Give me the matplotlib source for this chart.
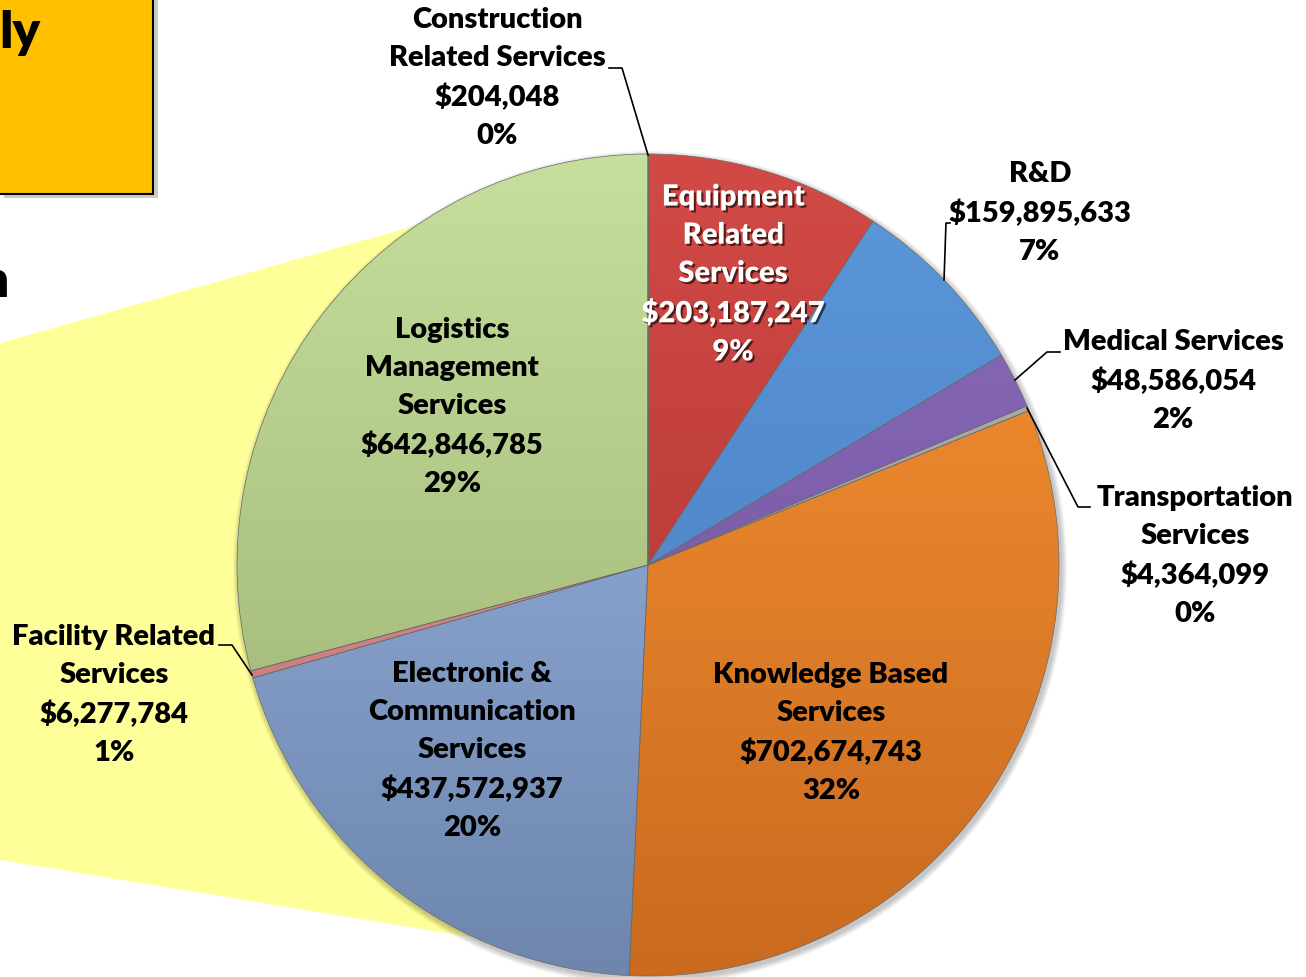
import numpy as np
import matplotlib.pyplot as plt
import matplotlib.patheffects as pe
from matplotlib.colors import to_rgb
from matplotlib.patches import Polygon, Rectangle, Circle

# data, clockwise from 12 o'clock
names = ["Construction\nRelated Services", "Equipment\nRelated\nServices", "R&D",
         "Medical Services", "Transportation\nServices", "Knowledge Based\nServices",
         "Electronic &\nCommunication\nServices", "Facility Related\nServices",
         "Logistics\nManagement\nServices"]
values = [204048, 203187247, 159895633, 48586054, 4364099, 702674743,
          437572937, 6277784, 642846785]
pct_labels = ["0%", "9%", "7%", "2%", "0%", "32%", "20%", "1%", "29%"]

# top / bottom colours of each slice gradient
top_cols = ["#1f3b6e", "#d24a46", "#5b98da", "#8c6cbc", "#b4b4b4", "#fa9534",
            "#9dbbea", "#e09a98", "#c6df9c"]
bot_cols = ["#1f3b6e", "#a8312f", "#4779bb", "#6c4f9c", "#909090", "#c96a1f",
            "#6e86ad", "#c07070", "#97ac6e"]

W, H = 1306, 977
def Y(y):
    return H - y

fig = plt.figure(figsize=(W / 100, H / 100), dpi=100)
ax = fig.add_axes([0, 0, 1, 1])
ax.axis("off")

cx, cy, r = 648, Y(565), 411

# yellow callout behind the pie
ax.add_patch(Polygon([(0, Y(343)), (648, Y(160)), (648, Y(966)), (0, Y(860))],
                     closed=True, facecolor="#ffff99", edgecolor="none", zorder=0))

# orange box at top left
ax.add_patch(Rectangle((4, Y(198)), 154, 200, facecolor="#999999", alpha=0.5,
                       edgecolor="none", zorder=0))
ax.add_patch(Rectangle((-5, Y(194)), 158, 200, facecolor="#ffc000",
                       edgecolor="black", lw=1.5, zorder=1))
ax.text(40, Y(48), "ly", ha="right", va="baseline", fontsize=37,
        fontweight="heavy", family="Lato", zorder=2)
ax.text(9, Y(297), "n", ha="right", va="baseline", fontsize=37,
        fontweight="heavy", family="Lato", zorder=2)

# soft shadow under the pie
for k in range(6):
    ax.add_patch(Circle((cx + 2, cy - 3), r + 6 - k, facecolor="#000000",
                        alpha=0.04, edgecolor="none", zorder=0.5))

wedges, _ = ax.pie(values, startangle=90, counterclock=False, center=(cx, cy),
                   radius=r, colors=top_cols,
                   wedgeprops=dict(edgecolor="#6a6a6a", linewidth=0.5))

for w, c1, c2 in zip(wedges, top_cols, bot_cols):
    t = np.linspace(0, 1, 256)[:, None]
    a, b = np.array(to_rgb(c1)), np.array(to_rgb(c2))
    img = (a * (1 - t) + b * t)[:, None, :]
    im = ax.imshow(img, extent=(cx - r, cx + r, cy - r, cy + r), origin="upper",
                   interpolation="bilinear", zorder=2)
    im.set_clip_path(w)
    w.set_facecolor("none")
    w.set_zorder(3)

# labels: text centre positions in pixels
label_pos = [(497, 78), (733, 275), (1040, 213), (1173, 381), (1195, 556),
             (831, 733), (472, 751), (114, 695), (452, 407)]
for i, (nm, v, p) in enumerate(zip(names, values, pct_labels)):
    txt = f"{nm}\n${v:,}\n{p}"
    x, y = label_pos[i]
    kw = dict(ha="center", va="center", fontsize=21, fontweight="heavy",
              family="Lato", linespacing=1.58, zorder=5)
    if i == 1:
        ax.text(x, Y(y), txt, color="white",
                path_effects=[pe.withSimplePatchShadow(offset=(1.5, -1.5),
                                                       shadow_rgbFace="black",
                                                       alpha=0.6)], **kw)
    else:
        ax.text(x, Y(y), txt, color="black", **kw)

# leader lines
leaders = [
    [(609, 68), (622, 68), (648, 155)],
    [(950, 223), (946, 223), (944, 280)],
    [(1060, 352), (1047, 352), (1015, 380)],
    [(1027, 408), (1078, 507), (1090, 507)],
    [(219, 645), (232, 645), (252, 675)],
]
for pts in leaders:
    xs = [p[0] for p in pts]
    ys = [Y(p[1]) for p in pts]
    ax.plot(xs, ys, color="black", lw=1.2, zorder=4)

ax.set_xlim(0, W)
ax.set_ylim(0, H)
fig.savefig("out.png", dpi=100)
